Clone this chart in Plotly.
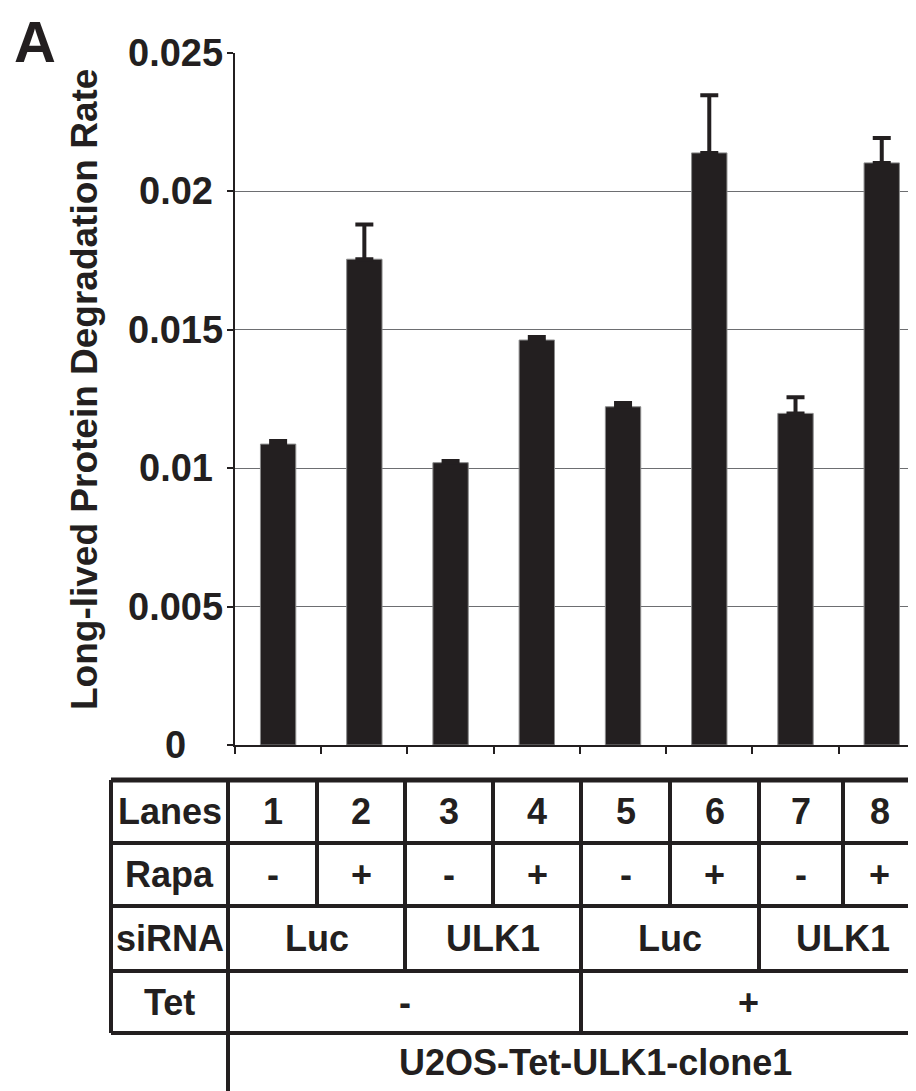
import plotly.graph_objects as go

# data
lanes = ['1', '2', '3', '4', '5', '6', '7', '8']
rate = [0.01087, 0.01755, 0.01020, 0.01463, 0.01222, 0.02139, 0.01198, 0.02103]
err = [0.00011, 0.00125, 0.00006, 0.00011, 0.00014, 0.00208, 0.00058, 0.00090]
rapa = ['-', '+', '-', '+', '-', '+', '-', '+']
sirna = ['Luc', 'ULK1', 'Luc', 'ULK1']
tet = ['-', '+']
row_labels = ['Lanes', 'Rapa', 'siRNA', 'Tet']
cell_line = 'U2OS-Tet-ULK1-clone1'
y_ticks = [0, 0.005, 0.01, 0.015, 0.02, 0.025]
y_ticktext = ['0', '0.005', '0.01', '0.015', '0.02', '0.025']

W, H = 916, 1091
OFF = 8  # page body margin
L, T, B = 227, 45, 354
INK = '#231f20'
FONT = 'Liberation Sans, Arial, sans-serif'

X0, X1 = L + OFF, W + OFF
Y0, Y1 = T + OFF, H - B + OFF


def px(x):
    # window pixel -> paper x
    return (x - X0) / (X1 - X0)


def py(y):
    # window pixel -> paper y
    return (Y1 - y) / (Y1 - Y0)


fig = go.Figure()

fig.add_trace(go.Bar(
    x=lanes,
    y=rate,
    width=0.41,
    marker=dict(color=INK, line=dict(color='#8a8a8a', width=1)),
    error_y=dict(type='data', array=err, arrayminus=[0] * len(err),
                 symmetric=False, color=INK, thickness=4, width=9),
    showlegend=False,
))

# y tick labels, centred like the original
annotations = []
for v, t in zip(y_ticks, y_ticktext):
    annotations.append(dict(x=px(175.5), y=v, xref='paper', yref='y', text=t,
                            showarrow=False, xanchor='center', yanchor='middle',
                            font=dict(size=38, color=INK, family=FONT, weight='bold')))

annotations.append(dict(x=px(84), y=py(390), xref='paper', yref='paper', textangle=-90,
                        text='Long-lived Protein Degradation Rate', showarrow=False,
                        xanchor='center', yanchor='middle',
                        font=dict(size=37, color=INK, family=FONT, weight='bold')))
annotations.append(dict(x=px(35), y=py(OFF), xref='paper', yref='paper', text='A',
                        showarrow=False, xanchor='center', yanchor='top', borderpad=0,
                        font=dict(size=58, color=INK, family=FONT, weight='bold')))

# table underneath the bars
col_x = [228, 317, 405, 493, 581, 670, 759, 843, 930]
row_y = [780, 843, 906, 971, 1033, 1100]
left_x = 111
shapes = []


def hline(y, x0, x1, w=4):
    shapes.append(dict(type='line', xref='paper', yref='paper', x0=px(x0), x1=px(x1),
                       y0=py(y), y1=py(y), line=dict(color=INK, width=w)))


def vline(x, y0, y1, w=4):
    shapes.append(dict(type='line', xref='paper', yref='paper', x0=px(x), x1=px(x),
                       y0=py(y0), y1=py(y1), line=dict(color=INK, width=w)))


hline(row_y[0], left_x, X1, 5)
for y in row_y[1:5]:
    hline(y, left_x, X1)
vline(left_x, row_y[0], row_y[4])
vline(col_x[0], row_y[0], row_y[5])
for i in range(1, 8):
    if i % 4 == 0:
        vline(col_x[i], row_y[0], row_y[4])
    elif i % 2 == 0:
        vline(col_x[i], row_y[0], row_y[3])
    else:
        vline(col_x[i], row_y[0], row_y[2])


def cell(x, y, text):
    annotations.append(dict(x=px(x), y=py(y), xref='paper', yref='paper', text=text,
                            showarrow=False, xanchor='center', yanchor='middle',
                            font=dict(size=36, color=INK, family=FONT, weight='bold')))


row_c = [811.5, 874.5, 938.5, 1002, 1062]
label_x = (left_x + col_x[0]) / 2
for k, lab in enumerate(row_labels):
    cell(label_x, row_c[k], lab)
for i in range(8):
    cx = (col_x[i] + min(col_x[i + 1], W)) / 2
    cell(cx, row_c[0], lanes[i])
    cell(cx, row_c[1], rapa[i])
for i, s in enumerate(sirna):
    cell((col_x[2 * i] + min(col_x[2 * i + 2], W)) / 2 + (5 if i == 3 else 0), row_c[2], s)
for i, s in enumerate(tet):
    cell((col_x[4 * i] + min(col_x[4 * i + 4], W)) / 2, row_c[3], s)
cell(595, row_c[4], cell_line)

fig.update_layout(
    width=W, height=H,
    margin=dict(l=L, r=0, t=T, b=B),
    plot_bgcolor='white', paper_bgcolor='white',
    annotations=annotations,
    shapes=shapes,
)
fig.update_xaxes(range=[-0.5, 7.49], showticklabels=False, showline=True, linecolor=INK,
                 linewidth=1.5, ticks='outside', tickson='boundaries', ticklen=7,
                 tickcolor=INK, tickwidth=1.5, showgrid=False)
fig.update_yaxes(range=[0, 0.025], tickvals=y_ticks, showticklabels=False, showline=True,
                 linecolor=INK, linewidth=1.5, ticks='outside', ticklen=6, tickcolor=INK,
                 tickwidth=1.5, showgrid=True, gridcolor='#6d6e71', gridwidth=1.3,
                 zeroline=False)

fig.write_html("out.html")
